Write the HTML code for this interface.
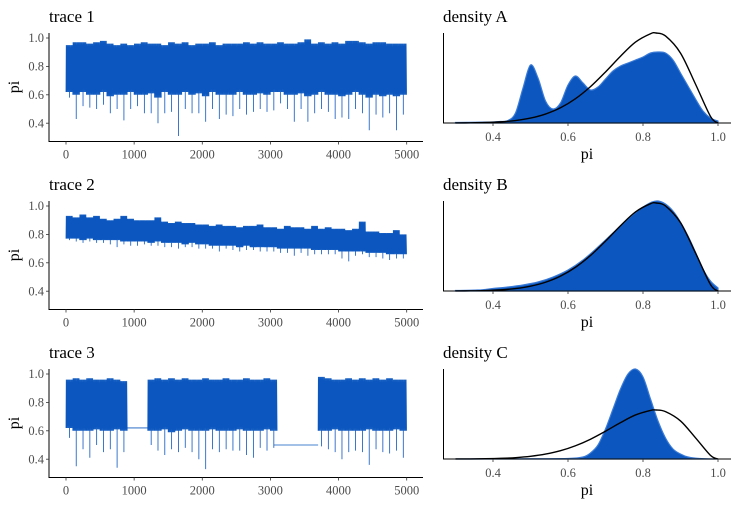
<!DOCTYPE html>
<html><head><meta charset="utf-8"><style>
html,body{margin:0;padding:0;background:#fff;}
svg text{font-family:"Liberation Serif",serif;}
</style></head><body>
<svg id="chart" width="740" height="505" viewBox="0 0 740 505" xmlns="http://www.w3.org/2000/svg"></svg>
<script>
// ---- data ----
const traceTitles = ["trace 1","trace 2","trace 3"];
const densityTitles = ["density A","density B","density C"];
const iterTicks = [0,1000,2000,3000,4000,5000];
const piTicks = [0.4,0.6,0.8,1.0];
const densTicks = [0.4,0.6,0.8,1.0];
const binSize = 100;
// trace 1 (per 100-iteration bin): max, dense lower edge, min spike
const t1Hi = [0.95,0.97,0.97,0.96,0.97,0.98,0.96,0.95,0.96,0.95,0.96,0.97,0.96,0.96,0.95,0.97,0.96,0.97,0.95,0.96,0.96,0.97,0.95,0.96,0.96,0.96,0.97,0.96,0.97,0.96,0.96,0.97,0.96,0.96,0.97,0.99,0.96,0.97,0.96,0.97,0.96,0.98,0.98,0.97,0.96,0.97,0.97,0.96,0.96,0.96];
const t1Lo = [0.62,0.6,0.62,0.6,0.6,0.62,0.59,0.6,0.6,0.62,0.6,0.6,0.61,0.58,0.62,0.6,0.6,0.62,0.6,0.61,0.59,0.62,0.6,0.6,0.6,0.62,0.6,0.6,0.61,0.6,0.62,0.62,0.6,0.6,0.61,0.59,0.6,0.62,0.6,0.6,0.59,0.6,0.62,0.6,0.58,0.6,0.59,0.6,0.59,0.6];
const t1Min = [0.58,0.43,0.52,0.51,0.5,0.53,0.47,0.5,0.42,0.5,0.52,0.47,0.47,0.40,0.47,0.48,0.31,0.5,0.47,0.47,0.41,0.5,0.43,0.46,0.45,0.5,0.46,0.48,0.5,0.48,0.49,0.54,0.5,0.41,0.5,0.41,0.47,0.5,0.48,0.43,0.44,0.43,0.5,0.47,0.35,0.46,0.44,0.47,0.35,0.46];
// trace 2
const t2Hi = [0.93,0.92,0.94,0.92,0.93,0.91,0.9,0.91,0.93,0.91,0.9,0.9,0.9,0.92,0.89,0.88,0.89,0.88,0.88,0.87,0.87,0.86,0.87,0.86,0.86,0.85,0.86,0.86,0.87,0.85,0.85,0.84,0.86,0.85,0.85,0.84,0.86,0.84,0.85,0.84,0.84,0.83,0.84,0.89,0.82,0.82,0.81,0.81,0.83,0.8];
const t2Lo = [0.77,0.77,0.76,0.77,0.76,0.76,0.76,0.76,0.75,0.75,0.75,0.75,0.74,0.75,0.74,0.74,0.74,0.73,0.74,0.73,0.73,0.72,0.72,0.72,0.72,0.71,0.72,0.71,0.71,0.71,0.71,0.7,0.7,0.7,0.7,0.7,0.69,0.69,0.69,0.69,0.68,0.68,0.68,0.68,0.67,0.67,0.67,0.66,0.66,0.66];
const t2Min = [0.76,0.75,0.74,0.75,0.74,0.74,0.73,0.71,0.73,0.72,0.72,0.73,0.72,0.72,0.71,0.71,0.7,0.71,0.71,0.7,0.7,0.7,0.68,0.7,0.69,0.68,0.69,0.69,0.68,0.68,0.68,0.67,0.67,0.65,0.67,0.65,0.66,0.66,0.66,0.66,0.63,0.61,0.65,0.66,0.64,0.64,0.63,0.62,0.63,0.63];
// trace 3 (null = chain stuck)
const t3Hi = [0.96,0.97,0.96,0.97,0.96,0.96,0.97,0.96,0.95,null,null,null,0.96,0.97,0.96,0.97,0.96,0.97,0.96,0.96,0.97,0.96,0.96,0.97,0.96,0.96,0.97,0.96,0.96,0.97,0.96,null,null,null,null,null,null,0.98,0.97,0.96,0.96,0.97,0.96,0.97,0.96,0.97,0.96,0.97,0.96,0.96];
const t3Lo = [0.62,0.6,0.6,0.6,0.61,0.6,0.6,0.61,0.6,null,null,null,0.6,0.6,0.61,0.59,0.6,0.61,0.6,0.6,0.6,0.61,0.6,0.6,0.6,0.61,0.6,0.6,0.6,0.61,0.6,null,null,null,null,null,null,0.6,0.6,0.61,0.6,0.6,0.6,0.6,0.61,0.6,0.6,0.6,0.61,0.6];
const t3Min = [0.55,0.35,0.47,0.41,0.5,0.45,0.47,0.34,0.45,null,null,null,0.5,0.46,0.43,0.47,0.45,0.48,0.45,0.4,0.33,0.47,0.45,0.47,0.46,0.46,0.43,0.41,0.48,0.46,0.48,null,null,null,null,null,null,0.49,0.47,0.45,0.4,0.45,0.46,0.45,0.36,0.47,0.45,0.44,0.46,0.41];
const t3FlatStart = [855,3055];
const t3FlatEnd = [1205,3700];
const t3FlatValue = [0.62,0.50];
const traceHi = [t1Hi,t2Hi,t3Hi];
const traceLo = [t1Lo,t2Lo,t3Lo];
const traceMin = [t1Min,t2Min,t3Min];
// prior density (black), relative to its peak
const priorX = [0.30,0.34,0.38,0.42,0.46,0.50,0.54,0.58,0.62,0.66,0.70,0.74,0.78,0.82,0.835,0.86,0.90,0.94,0.98,1.0];
const priorY = [0.0007,0.002,0.0054,0.0128,0.0275,0.0545,0.0995,0.169,0.27,0.404,0.567,0.742,0.899,0.992,1.0,0.967,0.777,0.432,0.073,0];
const priorPeak = [90,88,49];
// posterior densities (blue), panel max = 90
const densMax = 90;
const dAx = [0.30,0.36,0.40,0.42,0.44,0.46,0.48,0.50,0.52,0.54,0.56,0.58,0.60,0.62,0.64,0.66,0.68,0.70,0.72,0.74,0.76,0.78,0.80,0.82,0.84,0.86,0.88,0.90,0.92,0.94,0.96,0.98,1.0];
const dAy = [0.5,0.8,1,1.5,2.5,10,35,58,45,22,14,20,38,47,40,33,36,44,52,57,60,63,66,70,71,70,63,50,37,24,12,5,2];
const dBx = [0.30,0.36,0.40,0.44,0.48,0.52,0.56,0.60,0.64,0.68,0.72,0.76,0.80,0.84,0.88,0.92,0.96,0.98,1.0];
const dBy = [0.5,1,2.5,4,6,9,14,21,31,44,58,72,84,90,80,55,22,10,3];
const dCx = [0.30,0.50,0.60,0.64,0.66,0.68,0.70,0.72,0.74,0.76,0.78,0.80,0.82,0.84,0.86,0.88,0.90,0.92,0.95,1.0];
const dCy = [0,0.3,0.5,2,6,14,30,50,70,85,90,82,60,38,21,10,5,2,0.5,0];
const densX = [dAx,dBx,dCx];
const densY = [dAy,dBy,dCy];

// ---- drawing ----
const svg = document.getElementById('chart');
const NS = 'http://www.w3.org/2000/svg';
const BLUE = '#0b57bf';
function mk(tag, attrs, parent){
  const e = document.createElementNS(NS, tag);
  for (const k in attrs) e.setAttribute(k, attrs[k]);
  (parent||svg).appendChild(e);
  return e;
}
function smooth(pts){
  let d = 'M'+pts[0][0]+','+pts[0][1];
  for (let i=0;i<pts.length-1;i++){
    const p0=pts[Math.max(0,i-1)], p1=pts[i], p2=pts[i+1], p3=pts[Math.min(pts.length-1,i+2)];
    const c1x=p1[0]+(p2[0]-p0[0])/6, c1y=p1[1]+(p2[1]-p0[1])/6;
    const c2x=p2[0]-(p3[0]-p1[0])/6, c2y=p2[1]-(p3[1]-p1[1])/6;
    d += ' C'+c1x.toFixed(2)+','+c1y.toFixed(2)+' '+c2x.toFixed(2)+','+c2y.toFixed(2)+' '+p2[0].toFixed(2)+','+p2[1].toFixed(2);
  }
  return d;
}
const offsets = [0,168,336];
for (let p=0;p<3;p++){
  const oy = offsets[p];
  // ---- trace panel ----
  const g = mk('g',{});
  
  
  const xI = i => 66 + i*(340.7/5000);
  const yV = v => 38 + oy + (1-v)*142;
  const axisY = 141.5 + oy;
  const t = mk('text',{x:49,y:22+oy,'font-size':17,fill:'#000'},g);
  t.textContent = traceTitles[p];
  
  
  // series
  const sg = mk('g',{},g);
  
  
  const hi = traceHi[p], lo = traceLo[p], mn = traceMin[p];
  let d = '';
  for (let b=0;b<hi.length;b++){
    if (hi[b]===null) continue;
    const x0 = xI(b*binSize), x1 = xI((b+1)*binSize);
    const n = 8, w = (x1-x0)/n;
    d += 'M'+x0.toFixed(2)+','+yV(lo[b]).toFixed(2);
    for (let k=0;k<n;k++){
      d += 'L'+(x0+(k+0.3)*w).toFixed(2)+','+yV(hi[b]).toFixed(2);
      d += 'L'+(x0+(k+0.8)*w).toFixed(2)+','+yV(lo[b]).toFixed(2);
    }
    const xm = (x0+x1)/2;
    d += 'M'+xm.toFixed(2)+','+yV(lo[b]).toFixed(2)+'L'+xm.toFixed(2)+','+yV(mn[b]).toFixed(2);
  }
  if (p===2){
    for (let s=0;s<t3FlatStart.length;s++){
      d += 'M'+xI(t3FlatStart[s]).toFixed(2)+','+yV(t3FlatValue[s]).toFixed(2)+'L'+xI(t3FlatEnd[s]).toFixed(2)+','+yV(t3FlatValue[s]).toFixed(2);
    }
  }
  mk('path',{d:d,stroke:BLUE,'stroke-width':0.8,fill:'none'},sg);
  // axes
  const ax = mk('path',{d:'M49,'+(33+oy)+'V'+axisY+'H423',stroke:'#000','stroke-width':1,fill:'none'},g);
  
  
  piTicks.forEach(v=>{
    mk('line',{x1:46,x2:49,y1:yV(v),y2:yV(v),stroke:'#333','stroke-width':0.8},g);
    const tl = mk('text',{x:44,y:yV(v)+4.2,'font-size':12.5,fill:'#4d4d4d','text-anchor':'end'},g);
    tl.textContent = v.toFixed(1);
    
    
  });
  iterTicks.forEach(v=>{
    mk('line',{x1:xI(v),x2:xI(v),y1:axisY,y2:axisY+3,stroke:'#333','stroke-width':0.8},g);
    const tl = mk('text',{x:xI(v),y:axisY+17,'font-size':12.5,fill:'#4d4d4d','text-anchor':'middle'},g);
    tl.textContent = v;
    
    
  });
  const yl = mk('text',{x:0,y:0,'font-size':16,fill:'#000','text-anchor':'middle',transform:'translate(19,'+(87+oy)+') rotate(-90)'},g);
  yl.textContent = 'pi';
  
  

  // ---- density panel ----
  const dg = mk('g',{});
  
  
  const dAxisY = 123 + oy;
  const xP = v => 493 + (v-0.4)*375;
  const yD = v => dAxisY - v*(90/densMax);
  const dt = mk('text',{x:443,y:22+oy,'font-size':17,fill:'#000'},dg);
  dt.textContent = densityTitles[p];
  
  
  const dx = densX[p], dy = densY[p];
  const pts = dx.map((v,i)=>[xP(v), yD(dy[i])]);
  const area = mk('path',{d:smooth(pts)+' L'+xP(dx[dx.length-1]).toFixed(2)+','+dAxisY+' L'+xP(dx[0]).toFixed(2)+','+dAxisY+' Z',fill:BLUE,stroke:'#3a7ad6','stroke-width':1.2},dg);
  
  
  const ppts = priorX.map((v,i)=>[xP(v), dAxisY - priorY[i]*priorPeak[p]]);
  const pr = mk('path',{d:smooth(ppts),fill:'none',stroke:'#000','stroke-width':1.4},dg);
  
  
  const dax = mk('path',{d:'M443.5,'+(33+oy)+'V'+dAxisY+'H731',stroke:'#000','stroke-width':1,fill:'none'},dg);
  
  
  densTicks.forEach(v=>{
    mk('line',{x1:xP(v),x2:xP(v),y1:dAxisY,y2:dAxisY+3,stroke:'#333','stroke-width':0.8},dg);
    const tl = mk('text',{x:xP(v),y:dAxisY+18,'font-size':12.5,fill:'#4d4d4d','text-anchor':'middle'},dg);
    tl.textContent = v.toFixed(1);
    
    
  });
  const xl = mk('text',{x:587,y:dAxisY+36,'font-size':16,fill:'#000','text-anchor':'middle'},dg);
  xl.textContent = 'pi';
  
  
}
</script>
</body></html>
